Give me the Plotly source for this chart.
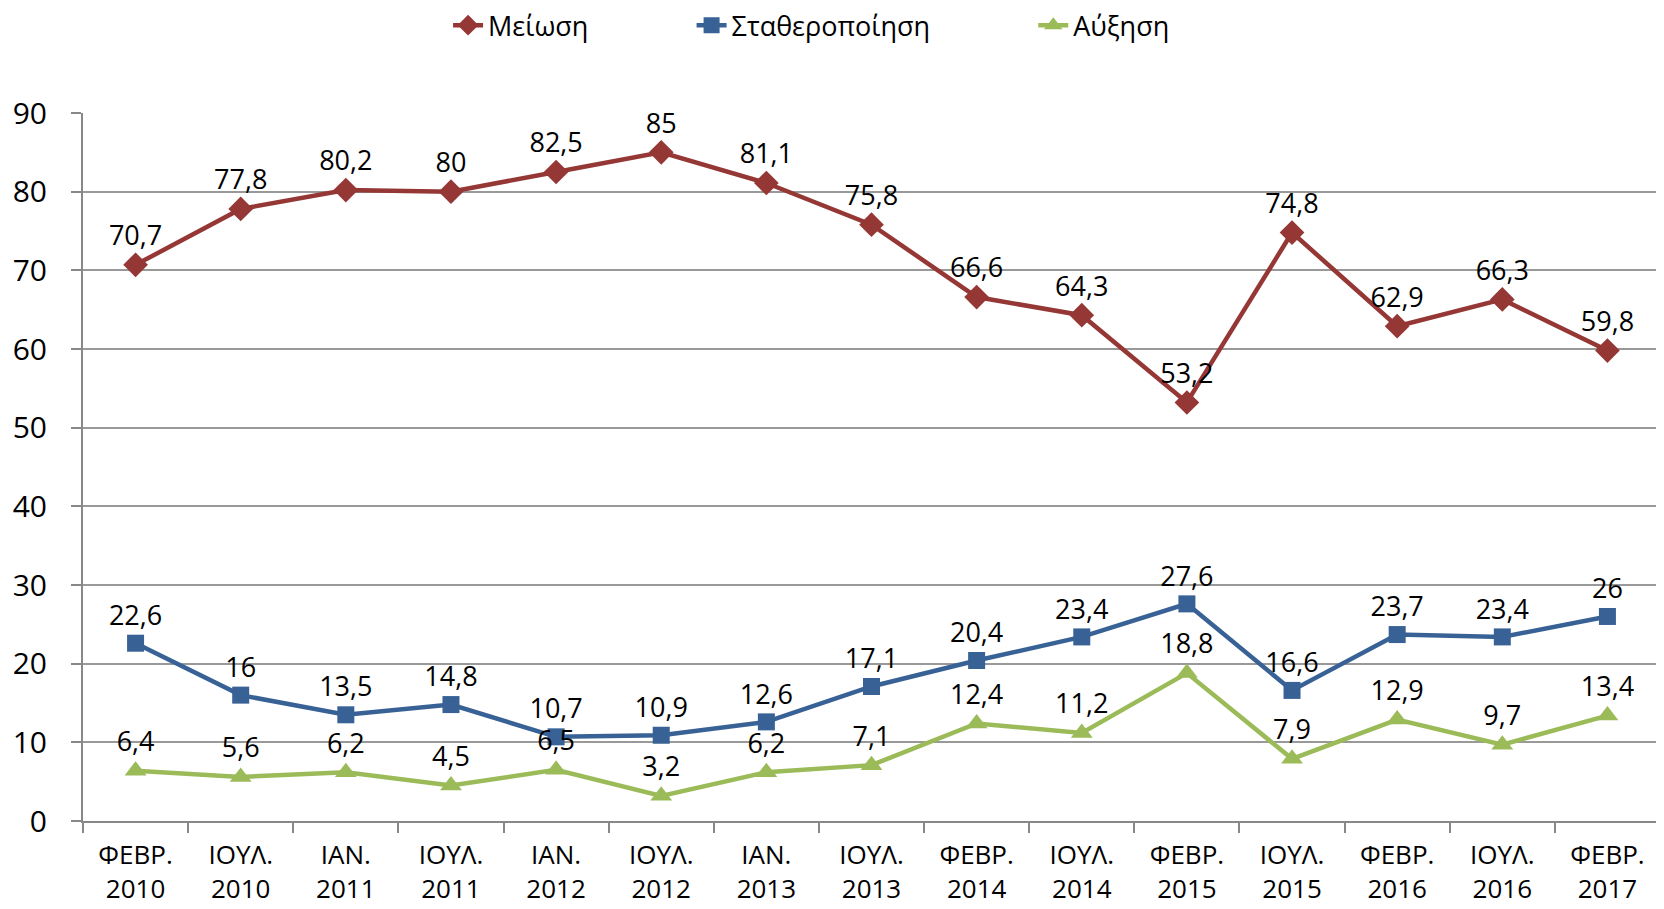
import plotly.graph_objects as go

periods = ['ΦΕΒΡ.<br>2010', 'ΙΟΥΛ.<br>2010', 'ΙΑΝ.<br>2011', 'ΙΟΥΛ.<br>2011', 'ΙΑΝ.<br>2012',
           'ΙΟΥΛ.<br>2012', 'ΙΑΝ.<br>2013', 'ΙΟΥΛ.<br>2013', 'ΦΕΒΡ.<br>2014', 'ΙΟΥΛ.<br>2014',
           'ΦΕΒΡ.<br>2015', 'ΙΟΥΛ.<br>2015', 'ΦΕΒΡ.<br>2016', 'ΙΟΥΛ.<br>2016', 'ΦΕΒΡ.<br>2017']
meiosi = [70.7, 77.8, 80.2, 80, 82.5, 85, 81.1, 75.8, 66.6, 64.3, 53.2, 74.8, 62.9, 66.3, 59.8]
stathero = [22.6, 16, 13.5, 14.8, 10.7, 10.9, 12.6, 17.1, 20.4, 23.4, 27.6, 16.6, 23.7, 23.4, 26]
afxisi = [6.4, 5.6, 6.2, 4.5, 6.5, 3.2, 6.2, 7.1, 12.4, 11.2, 18.8, 7.9, 12.9, 9.7, 13.4]

nb = '\u00a0'
series = [
    ('Μείωση' + nb * 14, meiosi, '#953735', 'diamond', 19),
    ('Σταθεροποίηση' + nb * 14, stathero, '#386295', 'square', 17),
    ('Αύξηση', afxisi, '#9BBB59', 'triangle-up', 19),
]

fig = go.Figure()
for name, vals, color, sym, size in series:
    labels = [('%g' % v).replace('.', ',') for v in vals]
    fig.add_trace(go.Scatter(
        x=periods, y=vals, name=name, mode='lines+markers+text',
        line=dict(color=color, width=4.5),
        marker=dict(symbol=sym, size=size, color=color),
        text=labels, textposition='top center',
        textfont=dict(size=27, color='black'),
    ))

fig.update_layout(
    width=1664, height=909,
    margin=dict(l=75, r=12, t=105, b=96, autoexpand=False),
    plot_bgcolor='white', paper_bgcolor='white',
    font=dict(family='Open Sans', size=27, color='black'),
    legend=dict(orientation='h', x=0.462, xanchor='center', y=1.158, yanchor='top',
                font=dict(size=27)),
)
fig.update_xaxes(
    type='category', range=[-0.5, 14.5], showline=True, linecolor='#888888', linewidth=2,
    ticks='outside', tickson='boundaries', ticklen=10, tickcolor='#888888', tickwidth=2,
    showgrid=False, tickfont=dict(size=26), ticklabelstandoff=10,
)
fig.update_yaxes(
    range=[0, 90], dtick=10, showline=True, linecolor='#888888', linewidth=2,
    showgrid=True, gridcolor='#999999', gridwidth=2,
    ticks='outside', ticklen=10, tickcolor='#888888', tickwidth=2,
    tickfont=dict(size=30), zeroline=False, ticklabelstandoff=18,
)

fig.write_html('out.html')
